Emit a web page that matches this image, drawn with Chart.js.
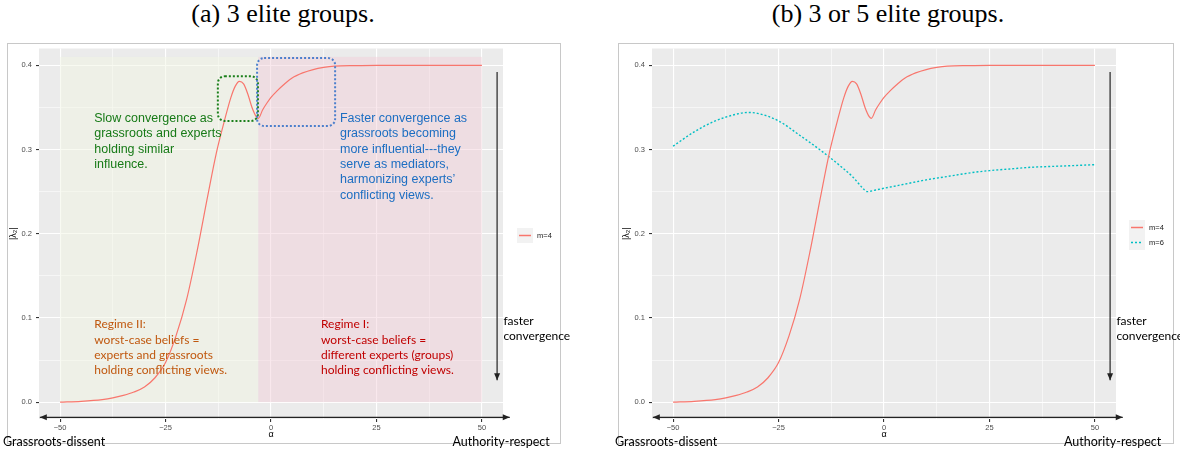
<!DOCTYPE html>
<html>
<head>
<meta charset="utf-8">
<script src="https://cdn.jsdelivr.net/npm/chart.js@4.4.0/dist/chart.umd.min.js"></script>
<style>
  body { margin: 0; background: #fff; width: 1180px; height: 450px; position: relative; overflow: hidden; }
  .titulo { position: absolute; top: -1px; width: 560px; text-align: center; font-family: "Liberation Serif", serif; font-size: 26px; line-height: 30px; color: #000; }
  canvas { position: absolute; top: 40px; }
</style>
</head>
<body>
<div class="titulo" style="left:3px">(a) 3 elite groups.</div>
<div class="titulo" style="left:608px">(b) 3 or 5 elite groups.</div>
<canvas id="graficoA" width="590" height="410" style="left:0px"></canvas>
<canvas id="graficoB" width="590" height="410" style="left:590px"></canvas>
<script>
//datos
var alpha4 = [-50, -45, -40, -37.5, -35, -32.5, -30, -27.5, -25, -22.5, -20, -17.5, -15, -13, -11, -9.5, -8.5, -7.5, -6.5, -5.5, -4.5, -3.5, -3, -2, -1, 0, 1.5, 3, 5, 7.5, 10, 12.5, 15, 20, 25, 30, 40, 50]
var lambda4 = [0.0, 0.001, 0.003, 0.005, 0.008, 0.012, 0.018, 0.029, 0.047, 0.079, 0.122, 0.18, 0.245, 0.295, 0.335, 0.362, 0.375, 0.381, 0.378, 0.366, 0.35, 0.339, 0.337, 0.347, 0.355, 0.362, 0.37, 0.377, 0.385, 0.391, 0.395, 0.3975, 0.399, 0.3997, 0.4, 0.4, 0.4, 0.4]
var alpha6 = [-50, -45, -40, -35, -32.5, -30, -25, -20, -15, -10, -7.5, -5, -4, -2, 0, 5, 10, 15, 20, 25, 30, 35, 40, 45, 50]
var lambda6 = [0.304, 0.321, 0.334, 0.342, 0.344, 0.343, 0.334, 0.317, 0.299, 0.279, 0.268, 0.254, 0.25, 0.252, 0.254, 0.259, 0.264, 0.268, 0.272, 0.275, 0.277, 0.279, 0.28, 0.281, 0.282]

var xTicks = [-50, -25, 0, 25, 50]
var xMinor = [-37.5, -12.5, 12.5, 37.5]
var yTicks = [0, 0.1, 0.2, 0.3, 0.4]
var yMinor = [0.05, 0.15, 0.25, 0.35]

var rojo = '#F8766D'
var cian = '#00BFC4'

Chart.defaults.font.family = '"Liberation Sans", Arial, sans-serif'
Chart.defaults.animation = false

const puntos = (xs, ys) => xs.map((x, i) => ({ x: x, y: ys[i] }))

//flecha simple
function flecha(ctx, x1, y1, x2, y2, dobles) {
    ctx.save()
    ctx.strokeStyle = '#222'
    ctx.fillStyle = '#222'
    ctx.lineWidth = 1.2
    ctx.beginPath()
    ctx.moveTo(x1, y1)
    ctx.lineTo(x2, y2)
    ctx.stroke()
    const punta = (xa, ya, xb, yb) => {
        let ang = Math.atan2(yb - ya, xb - xa)
        ctx.beginPath()
        ctx.moveTo(xb, yb)
        ctx.lineTo(xb - 7 * Math.cos(ang) + 3 * Math.sin(ang), yb - 7 * Math.sin(ang) - 3 * Math.cos(ang))
        ctx.lineTo(xb - 7 * Math.cos(ang) - 3 * Math.sin(ang), yb - 7 * Math.sin(ang) + 3 * Math.cos(ang))
        ctx.closePath()
        ctx.fill()
    }
    punta(x1, y1, x2, y2)
    if (dobles) punta(x2, y2, x1, y1)
    ctx.restore()
}

function textos(ctx, lineas, x, y, alto, fuente, color) {
    ctx.save()
    ctx.font = fuente
    ctx.fillStyle = color
    ctx.textAlign = 'left'
    ctx.textBaseline = 'middle'
    lineas.forEach((l, i) => ctx.fillText(l, x, y + i * alto))
    ctx.restore()
}

function cajaPunteada(ctx, x1, y1, x2, y2, color) {
    ctx.save()
    ctx.strokeStyle = color
    ctx.lineWidth = 2
    ctx.setLineDash([2, 2])
    ctx.beginPath()
    ctx.roundRect(x1, y1, x2 - x1, y2 - y1, 7)
    ctx.stroke()
    ctx.restore()
}

//plugin con fondo, regiones, notas, flechas y leyenda
const decorado = {
    id: 'decorado',
    beforeDraw(chart, args, o) {
        const ctx = chart.ctx
        const a = chart.chartArea
        ctx.save()
        ctx.fillStyle = '#fff'
        ctx.fillRect(0, 0, chart.width, chart.height)
        ctx.strokeStyle = '#C8C8C8'
        ctx.lineWidth = 1
        ctx.strokeRect(o.caja[0] + 0.5, o.caja[1] + 0.5, o.caja[2], o.caja[3])
        ctx.fillStyle = '#EBEBEB'
        ctx.fillRect(a.left, a.top, a.right - a.left, a.bottom - a.top)
        ctx.restore()
    },
    beforeDatasetsDraw(chart, args, o) {
        const ctx = chart.ctx
        const xs = chart.scales.x, ys = chart.scales.y
        if (o.regiones) {
            o.regiones.forEach(r => {
                ctx.save()
                ctx.fillStyle = r.color
                let x1 = xs.getPixelForValue(r.x[0]), x2 = xs.getPixelForValue(r.x[1])
                let y1 = ys.getPixelForValue(r.y[1]), y2 = ys.getPixelForValue(r.y[0])
                ctx.fillRect(x1, y1, x2 - x1, y2 - y1)
                ctx.restore()
            })
        }
    },
    afterDatasetsDraw(chart, args, o) {
        const ctx = chart.ctx
        const xs = chart.scales.x, ys = chart.scales.y
        const px = v => xs.getPixelForValue(v), py = v => ys.getPixelForValue(v)
        const a = chart.chartArea
        if (o.cajas) {
            o.cajas.forEach(c => cajaPunteada(ctx, px(c.x[0]), py(c.y[1]), px(c.x[1]), py(c.y[0]), c.color))
        }
        if (o.notas) {
            o.notas.forEach(n => textos(ctx, n.lineas, px(n.x), py(n.y), 15.3, n.fuente, n.color))
        }
        //flechas
        flecha(ctx, px(53.6), py(0.392), px(53.6), py(0.026), false)
        flecha(ctx, px(-54.8), py(-0.018), px(56.6), py(-0.018), true)
        textos(ctx, ['faster', 'convergence'], px(55.1), py(0.096), 15, '12px Lato', '#000')
        //titulos de ejes
        ctx.save()
        ctx.fillStyle = '#000'
        ctx.font = '9px "Liberation Sans"'
        ctx.textAlign = 'center'
        ctx.textBaseline = 'middle'
        ctx.fillText('α', (a.left + a.right) / 2, 395)
        ctx.translate(o.tituloY, (a.top + a.bottom) / 2)
        ctx.rotate(-Math.PI / 2)
        ctx.fillText('|λ₂|', 0, 0)
        ctx.restore()
        textos(ctx, ['Grassroots-dissent'], o.extremos[0], 401.5, 0, '12.5px Lato', '#000')
        textos(ctx, ['Authority-respect'], o.extremos[1], 401.5, 0, '12.5px Lato', '#000')
        //leyenda
        const L = o.leyenda
        ctx.save()
        ctx.fillStyle = '#F2F2F2'
        ctx.fillRect(L.x, L.y, 16, 15 * chart.data.datasets.length)
        chart.data.datasets.forEach((d, i) => {
            let yy = L.y + 7.5 + i * 15
            ctx.strokeStyle = d.borderColor
            ctx.lineWidth = 1.5
            ctx.setLineDash(d.borderDash || [])
            ctx.beginPath()
            ctx.moveTo(L.x + 2, yy)
            ctx.lineTo(L.x + 14, yy)
            ctx.stroke()
            ctx.fillStyle = '#1A1A1A'
            ctx.font = '7.5px "Liberation Sans"'
            ctx.textBaseline = 'middle'
            ctx.fillText(d.label, L.x + 20, yy)
        })
        ctx.restore()
    }
}

function crearGrafico(id, datasets, anchoY, opciones) {
    const esMayor = v => xTicks.includes(v)
    const esMayorY = v => yTicks.some(t => Math.abs(t - v) < 1e-9)
    return new Chart(document.getElementById(id), {
        type: 'line',
        data: { datasets: datasets },
        plugins: [decorado],
        options: {
            responsive: false,
            layout: { padding: { top: 6, right: 590 - anchoY - 464, bottom: 0, left: 0 } },
            plugins: {
                legend: { display: false },
                tooltip: { enabled: false },
                decorado: opciones
            },
            elements: { point: { radius: 0 } },
            scales: {
                x: {
                    type: 'linear', min: -55, max: 55,
                    afterBuildTicks: s => { s.ticks = xTicks.concat(xMinor).sort((p, q) => p - q).map(v => ({ value: v })) },
                    afterFit: s => { s.height = 31 },
                    ticks: {
                        autoSkip: false, maxRotation: 0, padding: 1, color: '#4D4D4D', font: { size: 7.5 },
                        callback: v => esMayor(v) ? String(v).replace('-', '−') : ''
                    },
                    grid: {
                        color: '#fff',
                        lineWidth: c => esMayor(c.tick.value) ? 1.1 : 0.55,
                        tickLength: 3,
                        tickColor: c => esMayor(c.tick.value) ? '#333' : 'rgba(0,0,0,0)'
                    },
                    border: { display: false }
                },
                y: {
                    type: 'linear', min: -0.02, max: 0.42,
                    afterBuildTicks: s => { s.ticks = yTicks.concat(yMinor).sort((p, q) => p - q).map(v => ({ value: v })) },
                    afterFit: s => { s.width = anchoY },
                    ticks: {
                        autoSkip: false, padding: 4, color: '#4D4D4D', font: { size: 7.5 },
                        callback: v => esMayorY(v) ? v.toFixed(1) : ''
                    },
                    grid: {
                        color: '#fff',
                        lineWidth: c => esMayorY(c.tick.value) ? 1.1 : 0.55,
                        tickLength: 3,
                        tickColor: c => esMayorY(c.tick.value) ? '#333' : 'rgba(0,0,0,0)'
                    },
                    border: { display: false }
                }
            }
        }
    })
}

//grafico (a)
crearGrafico('graficoA', [{
    label: 'm=4',
    data: puntos(alpha4, lambda4),
    borderColor: rojo,
    borderWidth: 1.2,
    cubicInterpolationMode: 'monotone'
}], 39, {
    caja: [7, 3, 553, 400],
    tituloY: 14,
    extremos: [3, 452.5],
    leyenda: { x: 517, y: 188 },
    regiones: [
        { x: [-50, -3], y: [0, 0.41], color: 'rgba(242,246,228,0.5)' },
        { x: [-3, 50], y: [0, 0.41], color: 'rgba(242,205,214,0.45)' }
    ],
    cajas: [
        { x: [-12.6, -3.1], y: [0.334, 0.387], color: '#1A7F1A' },
        { x: [-3.3, 15.2], y: [0.328, 0.4086], color: '#4C7FCC' }
    ],
    notas: [
        { lineas: ['Slow convergence as', 'grassroots and experts', 'holding similar', 'influence.'], x: -41.9, y: 0.3366, fuente: '12.5px "Liberation Sans"', color: '#177A17' },
        { lineas: ['Faster convergence as', 'grassroots becoming', 'more influential---they', 'serve as mediators,', 'harmonizing experts’', 'conflicting views.'], x: 16.35, y: 0.3366, fuente: '12.5px "Liberation Sans"', color: '#1C6EC2' },
        { lineas: ['Regime II:', 'worst-case beliefs =', 'experts and grassroots', 'holding conflicting views.'], x: -41.9, y: 0.0922, fuente: '12px Lato', color: '#C0580F' },
        { lineas: ['Regime I:', 'worst-case beliefs =', 'different experts (groups)', 'holding conflicting views.'], x: 11.85, y: 0.0922, fuente: '12px Lato', color: '#C00000' }
    ]
})

//grafico (b)
crearGrafico('graficoB', [{
    label: 'm=4',
    data: puntos(alpha4, lambda4),
    borderColor: rojo,
    borderWidth: 1.2,
    cubicInterpolationMode: 'monotone'
}, {
    label: 'm=6',
    data: puntos(alpha6, lambda6),
    borderColor: cian,
    borderWidth: 1.4,
    borderDash: [2, 2],
    cubicInterpolationMode: 'monotone'
}], 62, {
    caja: [28, 3, 555, 400],
    tituloY: 37,
    extremos: [25, 474],
    leyenda: { x: 539, y: 180 }
})
</script>
</body>
</html>
